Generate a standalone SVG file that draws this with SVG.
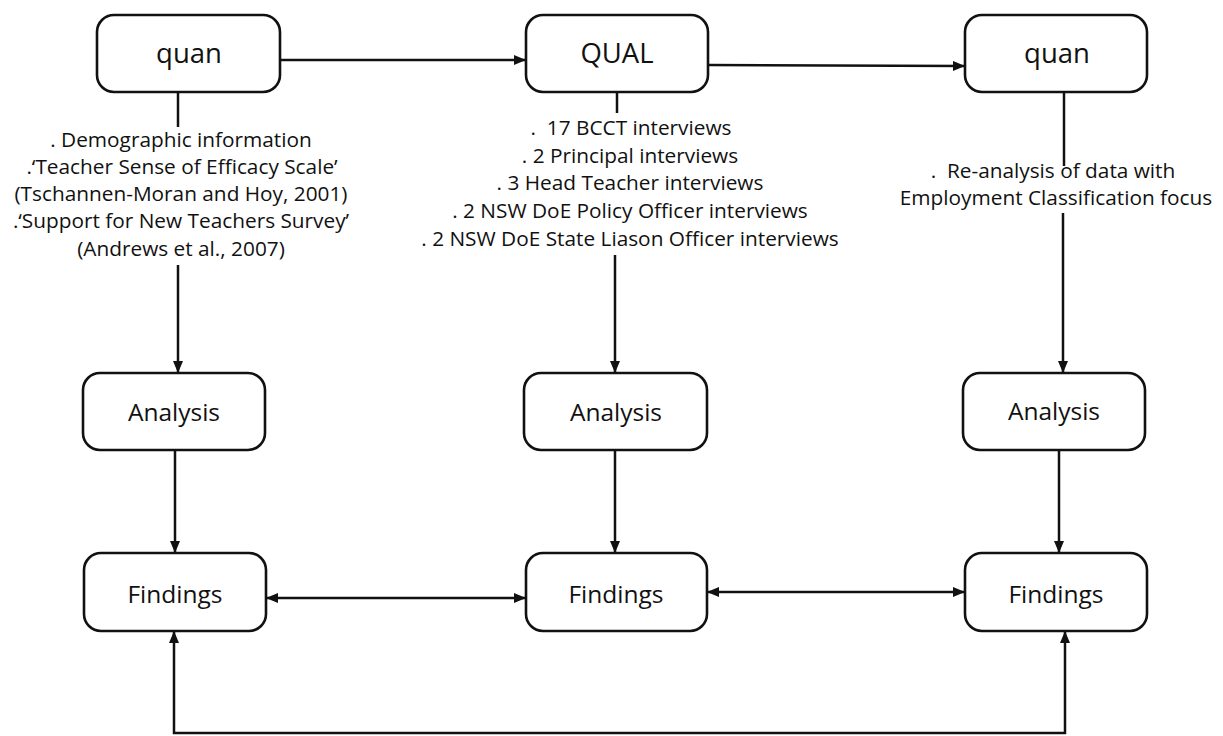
<svg xmlns="http://www.w3.org/2000/svg" width="1223" height="736" viewBox="0 0 1223 736">
  <defs>
    <marker id="arrow" viewBox="0 0 12 10" refX="11" refY="5" markerWidth="12" markerHeight="10" markerUnits="userSpaceOnUse" orient="auto-start-reverse">
      <path d="M0,0 L12,5 L0,10 Z" fill="#111"/>
    </marker>
    <style>
      .box { fill: #fff; stroke: #111; stroke-width: 2.6; }
      .lbl { font-family: "Open Sans", "Noto Sans", sans-serif; fill: #111; text-anchor: middle; }
      .big { font-size: 27.5px; }
      .mid { font-size: 24.5px; }
      .note { font-family: "Open Sans", "Noto Sans", sans-serif; font-size: 20.8px; fill: #111; text-anchor: middle; }
      .conn { fill: none; stroke: #111; stroke-width: 2.5; }
    </style>
  </defs>
  <rect width="1223" height="736" fill="#fff"/>

  <!-- connectors -->
  <g id="connectors">
    <path class="conn" d="M280,60 H525" marker-end="url(#arrow)"/>
    <path class="conn" d="M708,65 L964,66" marker-end="url(#arrow)"/>
    <path class="conn" d="M178,92 V127"/>
    <path class="conn" d="M178,265 V372" marker-end="url(#arrow)"/>
    <path class="conn" d="M617,92 V113"/>
    <path class="conn" d="M615,255 V372" marker-end="url(#arrow)"/>
    <path class="conn" d="M1064,92 V166"/>
    <path class="conn" d="M1063,213 V372" stroke-width="3" marker-end="url(#arrow)"/>
    <path class="conn" d="M175,450 V552" marker-end="url(#arrow)"/>
    <path class="conn" d="M615,450 V552" marker-end="url(#arrow)"/>
    <path class="conn" d="M1059,450 V552" marker-end="url(#arrow)"/>
    <path class="conn" d="M267,598 H525" marker-start="url(#arrow)" marker-end="url(#arrow)"/>
    <path class="conn" d="M708,592 H964" marker-start="url(#arrow)" marker-end="url(#arrow)"/>
    <path class="conn" d="M174,632 V733 H1065 V632" marker-start="url(#arrow)" marker-end="url(#arrow)"/>
  </g>

  <!-- top row -->
  <g id="quan-1">
    <rect class="box" x="97" y="15" width="183" height="77" rx="17"/>
    <text class="lbl big" x="189" y="63">quan</text>
  </g>
  <g id="qual">
    <rect class="box" x="526" y="15" width="182" height="77" rx="17"/>
    <text class="lbl big" x="617" y="63">QUAL</text>
  </g>
  <g id="quan-2">
    <rect class="box" x="965" y="15" width="182" height="77" rx="17"/>
    <text class="lbl big" x="1057" y="63">quan</text>
  </g>

  <!-- data collection notes -->
  <g id="notes-quan-1">
    <text class="note" x="181" y="147">. Demographic information</text>
    <text class="note" x="182" y="174">.‘Teacher Sense of Efficacy Scale’</text>
    <text class="note" x="181" y="201">(Tschannen-Moran and Hoy, 2001)</text>
    <text class="note" x="181" y="228">.‘Support for New Teachers Survey’</text>
    <text class="note" x="181" y="256">(Andrews et al., 2007)</text>
  </g>
  <g id="notes-qual">
    <text class="note" x="631" y="135">.&#160; 17 BCCT interviews</text>
    <text class="note" x="630" y="163">. 2 Principal interviews</text>
    <text class="note" x="630" y="190">. 3 Head Teacher interviews</text>
    <text class="note" x="630" y="218">. 2 NSW DoE Policy Officer interviews</text>
    <text class="note" x="630" y="246">. 2 NSW DoE State Liason Officer interviews</text>
  </g>
  <g id="notes-quan-2">
    <text class="note" x="1053" y="178">.&#160; Re-analysis of data with</text>
    <text class="note" x="1056" y="205">Employment Classification focus</text>
  </g>

  <!-- analysis row -->
  <g id="analysis-1">
    <rect class="box" x="83" y="373" width="182" height="77" rx="17"/>
    <text class="lbl mid" x="174" y="421">Analysis</text>
  </g>
  <g id="analysis-2">
    <rect class="box" x="524" y="373" width="183" height="77" rx="17"/>
    <text class="lbl mid" x="616" y="421">Analysis</text>
  </g>
  <g id="analysis-3">
    <rect class="box" x="963" y="373" width="182" height="77" rx="17"/>
    <text class="lbl mid" x="1054" y="420">Analysis</text>
  </g>

  <!-- findings row -->
  <g id="findings-1">
    <rect class="box" x="84" y="553" width="182" height="78" rx="17"/>
    <text class="lbl mid" x="175" y="603">Findings</text>
  </g>
  <g id="findings-2">
    <rect class="box" x="526" y="553" width="181" height="78" rx="17"/>
    <text class="lbl mid" x="616" y="603">Findings</text>
  </g>
  <g id="findings-3">
    <rect class="box" x="965" y="553" width="182" height="78" rx="17"/>
    <text class="lbl mid" x="1056" y="603">Findings</text>
  </g>
</svg>
